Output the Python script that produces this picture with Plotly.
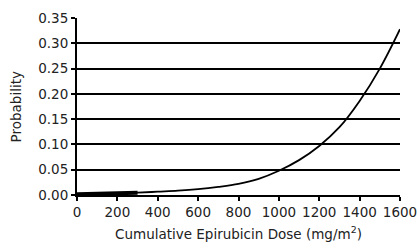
import plotly.graph_objects as go

dose = [0, 100, 200, 300, 400, 500, 600, 700, 800, 900, 1000, 1100, 1200, 1300, 1400, 1500, 1600]
prob = [0.0015, 0.002, 0.003, 0.0045, 0.0065, 0.0085, 0.0115, 0.016, 0.022, 0.032, 0.048, 0.069, 0.097, 0.134, 0.186, 0.25, 0.328]

x_ticks = [0, 200, 400, 600, 800, 1000, 1200, 1400, 1600]
y_ticks = [0.00, 0.05, 0.10, 0.15, 0.20, 0.25, 0.30, 0.35]
y_labels = ["0.00", "0.05", "0.10", "0.15", "0.20", "0.25", "0.30", "0.35"]

fig = go.Figure()
fig.add_trace(go.Scatter(x=dose[:4], y=prob[:4], mode="lines",
                         line=dict(color="black", width=4), hoverinfo="skip"))
fig.add_trace(go.Scatter(x=dose, y=prob, mode="lines",
                         line=dict(color="black", width=1.8, shape="spline")))

fam = "DejaVu Sans, Arial, sans-serif"
font = dict(family=fam, size=13.5, color="#222")
fig.update_layout(
    width=418, height=251,
    margin=dict(l=77, r=18, t=18, b=56),
    paper_bgcolor="white", plot_bgcolor="white",
    showlegend=False,
    font=font,
    xaxis=dict(range=[0, 1600], tickvals=x_ticks, showgrid=False, zeroline=False,
               showline=True, linecolor="black", linewidth=2, automargin=False,
               ticks="outside", ticklen=4, tickwidth=1.5, tickcolor="black"),
    yaxis=dict(range=[0, 0.35], tickvals=y_ticks, ticktext=y_labels,
               showgrid=True, gridcolor="black", gridwidth=1.5, zeroline=False,
               showline=True, linecolor="black", linewidth=2, automargin=False,
               ticks="outside", ticklen=4, tickwidth=1.5, tickcolor="black"),
    annotations=[
        dict(text="Cumulative Epirubicin Dose (mg/m<sup>2</sup>)", xref="paper", yref="paper",
             x=0.5, y=-0.215, xanchor="center", yanchor="middle", showarrow=False,
             font=dict(family=fam, size=13.5, color="#222")),
        dict(text="Probability", xref="paper", yref="paper",
             x=-0.189, y=0.5, xanchor="center", yanchor="middle", showarrow=False,
             textangle=-90, font=dict(family=fam, size=13.5, color="#222")),
    ],
)
fig.write_html("out.html", config={"displayModeBar": False},
               post_script="document.body.style.margin='0';")
